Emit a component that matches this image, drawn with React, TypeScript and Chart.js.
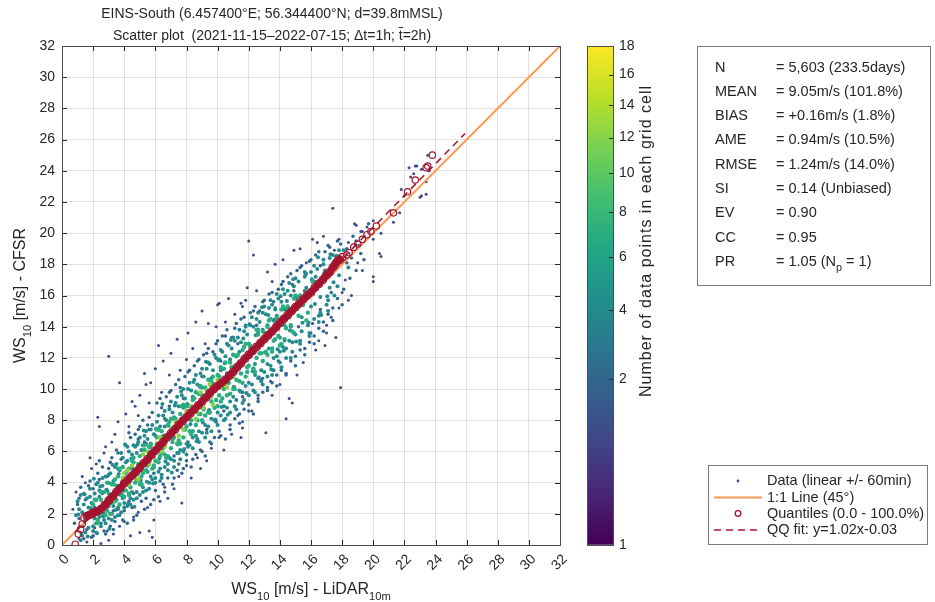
import React, { useEffect, useRef } from 'react';
import { Chart, registerables } from 'chart.js';

Chart.register(...registerables);

const FONT = '"Liberation Sans", Arial, Helvetica, sans-serif';
const INK = '#262626';

// ---------- texts ----------
const titleLine1 = 'EINS-South (6.457400°E; 56.344400°N; d=39.8mMSL)';
const titleLine2 = 'Scatter plot  (2021-11-15–2022-07-15; Δt=1h; t̄=2h)';
const xLabelParts: [string, boolean][] = [['WS', false], ['10', true], [' [m/s] - LiDAR', false], ['10m', true]];
const yLabelParts: [string, boolean][] = [['WS', false], ['10', true], [' [m/s] - CFSR', false]];

// ---------- axes ----------
const axisMin = 0;
const axisMax = 32;
const axisTicks = [0, 2, 4, 6, 8, 10, 12, 14, 16, 18, 20, 22, 24, 26, 28, 30, 32];

// ---------- colorbar ----------
const cbMax = 18;
const cbTickPositions = [0, 2, 4, 6, 8, 10, 12, 14, 16, 18];
const cbTickLabels = ['1', '2', '4', '6', '8', '10', '12', '14', '16', '18'];
const cbLabel = 'Number of data points in each grid cell';

// ---------- statistics ----------
const statLabels = ['N', 'MEAN', 'BIAS', 'AME', 'RMSE', 'SI', 'EV', 'CC', 'PR'];
const statValues = [
  '= 5,603 (233.5days)',
  '= 9.05m/s (101.8%)',
  '= +0.16m/s (1.8%)',
  '= 0.94m/s (10.5%)',
  '= 1.24m/s (14.0%)',
  '= 0.14 (Unbiased)',
  '= 0.90',
  '= 0.95',
  '= 1.05 (N_p = 1)',
];

// ---------- legend ----------
const legendLabels = ['Data (linear +/- 60min)', '1:1 Line (45°)', 'Quantiles (0.0 - 100.0%)', 'QQ fit: y=1.02x-0.03'];

// ---------- lines ----------
const fitSlope = 1.02;
const fitIntercept = -0.03;
const fitXRange = [0.85, 25.9];
const oneToOneRange = [0, 32];

// ---------- quantiles ----------
const quantDense: [number, number][] = [
  [1.45, 1.75], [1.6, 1.85], [1.8, 1.95], [2.0, 2.05], [2.25, 2.15], [2.5, 2.3], [2.75, 2.55], [3.0, 2.85],
  [3.25, 3.1], [3.5, 3.4], [3.75, 3.65], [4.0, 3.95], [4.25, 4.2], [4.5, 4.45], [4.75, 4.7], [5.0, 4.95],
  [5.25, 5.25], [5.5, 5.5], [5.75, 5.8], [6.0, 6.05], [6.25, 6.35], [6.5, 6.6], [6.75, 6.9], [7.0, 7.15],
  [7.25, 7.4], [7.5, 7.7], [7.75, 7.95], [8.0, 8.2], [8.25, 8.45], [8.5, 8.7], [8.75, 8.95], [9.0, 9.2],
  [9.25, 9.45], [9.5, 9.75], [9.75, 10.0], [10.0, 10.2], [10.25, 10.4], [10.5, 10.6], [10.75, 10.85], [11.0, 11.1],
  [11.25, 11.4], [11.5, 11.65], [11.75, 11.95], [12.0, 12.2], [12.25, 12.45], [12.5, 12.7], [12.75, 12.95], [13.0, 13.2],
  [13.25, 13.45], [13.5, 13.7], [13.75, 13.95], [14.0, 14.25], [14.25, 14.5], [14.5, 14.75], [14.75, 15.0], [15.0, 15.25],
  [15.25, 15.5], [15.5, 15.75], [15.75, 16.0], [16.0, 16.2], [16.25, 16.5], [16.5, 16.75], [16.75, 17.0], [17.0, 17.3],
  [17.2, 17.5], [17.4, 17.8], [17.55, 18.0], [17.7, 18.2], [17.85, 18.3], [18.0, 18.45],
];
const quantSparse: [number, number][] = [
  [0.85, 0.05], [1.05, 0.7], [1.2, 1.0], [1.3, 1.35], [18.3, 18.6], [18.45, 18.75], [18.75, 19.1], [19.0, 19.3],
  [19.3, 19.6], [19.6, 19.9], [19.85, 20.1], [20.2, 20.45], [21.3, 21.3], [22.2, 22.65], [22.7, 23.4], [23.4, 24.2],
  [23.5, 24.3], [23.8, 25.0],
];

// ---------- data points, grouped by count per grid cell ----------
const densityCounts = [1, 2, 4, 7, 12];

const pts1: [number, number][] = [
  [0.7, 2.3], [0.9, 3.4], [1.1, 0.4], [1.6, 0.2], [2.5, 0.1], [3.3, 0.7], [3.0, 0.3], [2.1, 1.1], [3.7, 1.2], [4.4, 0.6],
  [5.0, 0.8], [5.6, 0.9], [5.9, 1.6], [5.8, 0.5], [4.6, 1.8], [1.3, 4.4], [2.2, 5.2], [1.9, 4.9], [2.3, 8.2], [2.4, 7.6],
  [3.0, 12.1], [3.7, 10.4], [3.2, 6.6], [2.8, 6.3], [4.1, 8.4], [3.6, 7.9], [1.5, 4.0], [6.2, 12.8], [6.5, 11.8], [9.4, 14.2],
  [5.4, 10.3], [5.7, 10.4], [4.7, 8.9], [5.0, 9.6], [4.5, 9.2], [5.3, 11.0], [6.0, 11.3], [7.0, 12.3], [7.4, 13.2], [8.1, 13.6],
  [8.6, 14.3], [9.0, 15.0], [10.0, 15.4], [10.1, 15.5], [10.7, 15.8], [11.5, 15.5], [11.9, 16.5], [11.8, 15.7], [11.6, 15.3], [12.0, 19.5],
  [12.3, 18.6], [13.7, 18.0], [13.2, 17.5], [7.7, 2.7], [6.8, 3.0], [7.2, 3.6], [8.3, 4.3], [8.9, 4.9], [9.3, 5.4], [10.4, 6.1],
  [11.5, 6.9], [11.6, 7.5], [13.1, 7.2], [14.4, 8.1], [14.6, 9.4], [14.8, 9.1], [12.9, 10.7], [13.4, 10.5], [17.9, 10.1], [17.6, 13.3],
  [17.0, 13.6], [16.5, 13.1], [16.0, 13.6], [17.0, 14.1], [16.1, 14.2], [11.6, 7.9], [16.4, 19.4], [15.7, 18.1], [17.4, 21.6], [20.0, 17.2],
  [20.0, 16.9], [19.3, 17.6], [18.6, 16.0], [20.5, 18.5], [20.4, 18.7], [20.5, 20.0], [20.0, 20.8], [23.0, 22.3], [22.4, 23.6], [22.6, 23.8],
  [22.8, 24.3], [19.2, 20.1], [18.9, 20.5], [18.4, 19.4], [23.5, 25.0], [22.7, 24.3], [22.3, 24.2], [23.1, 24.1], [21.8, 22.8], [22.0, 22.4],
  [23.1, 22.4], [23.4, 22.5], [21.7, 21.3], [21.3, 20.7], [23.4, 23.3], [23.6, 24.0], [18.8, 20.6], [19.3, 20.1], [19.6, 20.4], [20.0, 19.6],
  [18.2, 17.0], [18.0, 16.2], [19.0, 18.1], [17.5, 18.9], [17.8, 19.6], [16.8, 19.8], [1.8, 5.6], [2.7, 5.9], [3.4, 7.1], [4.3, 7.6],
  [4.9, 8.3], [5.6, 9.1], [6.4, 9.8], [6.9, 10.9], [7.6, 11.2], [8.4, 12.6], [8.0, 11.9], [9.2, 12.9], [9.9, 14.0], [10.5, 14.3],
  [11.1, 14.8], [12.5, 16.3], [13.5, 16.9], [14.2, 18.3], [14.9, 18.9], [15.3, 19.0], [16.1, 19.6], [2.9, 0.9], [4.0, 1.5], [4.9, 2.1],
  [5.5, 2.4], [6.3, 2.8], [6.6, 3.7], [7.5, 4.4], [8.0, 5.1], [8.7, 5.6], [9.6, 6.2], [10.1, 6.9], [10.9, 7.1], [11.3, 8.3],
  [12.2, 8.6], [12.6, 9.4], [13.5, 9.6], [14.0, 10.3], [15.1, 10.9], [15.5, 11.7], [16.3, 12.5], [16.9, 12.8], [17.3, 14.6], [17.8, 15.2],
  [18.4, 15.7],
];

const pts2: [number, number][] = [
  [0.8, 1.4], [1.0, 2.6], [1.2, 3.7], [1.3, 0.6], [1.5, 2.9], [1.6, 1.0], [1.8, 4.1], [1.9, 0.5], [2.0, 3.6], [2.2, 0.8],
  [2.3, 4.6], [2.5, 1.4], [2.6, 5.0], [2.8, 0.7], [2.9, 4.4], [3.1, 1.2], [3.2, 5.6], [3.4, 1.5], [3.5, 6.1], [3.7, 1.9],
  [3.8, 5.5], [4.0, 2.2], [4.1, 6.4], [4.2, 1.4], [4.4, 6.9], [4.5, 2.4], [4.7, 7.1], [4.8, 1.9], [5.0, 7.6], [5.1, 2.8],
  [5.2, 8.0], [5.4, 3.0], [5.5, 7.7], [5.7, 2.6], [5.8, 8.5], [6.0, 3.5], [6.1, 9.1], [6.2, 3.1], [6.4, 8.8], [6.5, 3.9],
  [6.7, 9.5], [6.8, 4.3], [7.0, 9.9], [7.1, 3.9], [7.3, 10.3], [7.4, 4.8], [7.6, 10.1], [7.7, 4.6], [7.9, 10.8], [8.0, 5.4],
  [8.2, 11.2], [8.3, 5.0], [8.5, 11.5], [8.6, 5.8], [8.8, 11.9], [8.9, 6.1], [9.1, 12.2], [9.2, 5.7], [9.4, 12.6], [9.5, 6.6],
  [9.7, 12.4], [9.8, 6.9], [10.0, 13.1], [10.1, 7.3], [10.3, 13.4], [10.5, 6.8], [10.6, 13.8], [10.8, 7.7], [10.9, 13.3], [11.1, 8.1],
  [11.2, 14.2], [11.4, 7.8], [11.5, 14.5], [11.7, 8.7], [11.8, 14.1], [12.0, 9.0], [12.1, 14.9], [12.3, 8.4], [12.4, 15.3], [12.6, 9.2],
  [12.7, 15.0], [12.9, 9.8], [13.0, 15.7], [13.2, 10.1], [13.3, 16.1], [13.5, 10.4], [13.6, 15.6], [13.8, 10.9], [13.9, 16.4], [14.1, 11.2],
  [14.2, 16.9], [14.4, 11.0], [14.5, 17.2], [14.7, 11.8], [14.8, 16.7], [15.0, 12.1], [15.1, 17.6], [15.3, 12.5], [15.4, 17.9], [15.6, 12.2],
  [15.7, 17.4], [15.9, 13.0], [16.0, 18.3], [16.2, 13.4], [16.3, 18.6], [16.5, 13.9], [16.6, 17.9], [16.8, 14.3], [16.9, 18.8], [17.1, 14.8],
  [17.2, 19.1], [17.4, 15.2], [17.6, 18.5], [17.7, 15.8], [17.9, 19.3], [18.1, 16.4], [18.3, 19.0], [18.5, 17.1], [18.7, 19.8], [18.9, 17.6],
  [19.1, 19.2], [19.4, 18.3], [19.7, 20.6], [16.6, 15.1], [17.3, 16.2], [15.2, 14.0], [14.3, 13.1], [2.1, 2.4], [3.3, 2.2], [4.6, 3.3],
  [5.9, 4.6], [7.2, 5.7], [8.1, 6.6], [9.3, 7.4], [10.4, 8.6], [11.6, 9.5], [12.8, 10.6], [13.9, 11.8], [2.6, 3.3], [3.9, 5.0],
  [5.3, 6.6], [6.6, 8.1], [7.8, 9.4], [9.0, 10.8], [10.2, 11.8], [11.3, 12.9], [12.5, 14.1], [13.7, 15.2], [14.9, 16.3], [1.1, 1.7],
  [1.4, 3.3], [2.4, 4.2], [3.0, 4.9], [3.6, 2.3], [4.3, 2.8], [4.9, 6.8], [5.6, 7.4], [6.3, 4.1], [6.9, 8.9], [7.5, 5.2],
  [1.1, 3.0], [1.4, 0.4], [1.7, 3.8], [2.0, 0.6], [2.4, 5.4], [2.7, 0.9], [3.1, 5.3], [3.3, 1.0], [3.6, 5.9], [3.9, 1.6],
  [4.3, 7.2], [4.6, 1.6], [4.9, 7.4], [5.3, 2.3], [5.6, 8.2], [5.9, 2.9], [6.3, 9.4], [6.6, 3.4], [6.9, 9.8], [7.2, 4.3],
  [7.5, 10.6], [7.8, 4.9], [8.1, 11.1], [8.4, 5.5], [8.7, 11.8], [9.0, 6.0], [9.3, 12.3], [9.6, 6.5], [9.9, 12.9], [10.2, 7.0],
  [10.5, 13.4], [10.8, 7.4], [11.1, 13.9], [11.4, 8.4], [11.7, 14.6], [12.0, 8.6], [12.3, 15.0], [12.6, 9.6], [12.9, 15.6], [13.2, 9.9],
  [13.5, 16.2], [13.8, 10.2], [14.1, 16.7], [14.4, 10.9], [14.7, 17.4], [15.0, 11.5], [15.3, 17.8], [15.6, 12.6], [15.9, 18.2], [16.2, 12.9],
  [16.5, 18.8], [16.8, 13.7], [17.1, 19.2], [17.4, 14.4], [17.7, 19.5], [18.0, 15.4], [18.3, 18.1], [18.6, 18.4], [18.9, 19.5], [19.2, 18.7],
];

const pts4: [number, number][] = [
  [0.9, 1.9], [1.0, 2.8], [1.1, 2.3], [1.2, 3.2], [1.3, 1.2], [1.4, 2.6], [1.5, 0.8], [1.6, 3.0], [1.7, 1.1], [1.8, 3.6],
  [1.9, 2.7], [2.0, 0.9], [2.1, 3.3], [2.2, 1.4], [2.3, 4.0], [2.4, 3.1], [2.5, 1.2], [2.6, 3.8], [2.7, 1.6], [2.8, 4.4],
  [2.9, 3.5], [3.0, 1.7], [3.1, 4.6], [3.2, 2.0], [3.3, 4.1], [3.4, 1.8], [3.5, 5.2], [3.6, 2.4], [3.7, 4.8], [3.8, 2.1],
  [3.9, 5.6], [4.0, 2.7], [4.1, 5.3], [4.2, 2.5], [4.3, 6.0], [4.4, 3.0], [4.5, 5.8], [4.6, 2.9], [4.7, 6.3], [4.8, 3.4],
  [4.9, 6.6], [5.0, 3.2], [5.1, 6.1], [5.2, 3.7], [5.3, 7.0], [5.4, 3.5], [5.5, 6.8], [5.6, 4.0], [5.7, 7.4], [5.8, 4.2],
  [5.9, 7.1], [6.0, 4.3], [6.1, 7.9], [6.2, 4.7], [6.3, 7.6], [6.4, 4.5], [6.5, 8.3], [6.6, 5.0], [6.7, 8.0], [6.8, 5.2],
  [6.9, 8.7], [7.0, 5.5], [7.1, 8.5], [7.2, 5.4], [7.3, 9.1], [7.4, 5.9], [7.5, 8.9], [7.6, 6.1], [7.7, 9.6], [7.8, 6.0],
  [7.9, 9.4], [8.0, 6.5], [8.1, 10.0], [8.2, 6.4], [8.3, 9.9], [8.4, 6.9], [8.5, 10.6], [8.6, 7.0], [8.7, 10.3], [8.8, 7.3],
  [8.9, 11.0], [9.0, 7.2], [9.1, 10.8], [9.2, 7.7], [9.3, 11.3], [9.4, 7.6], [9.5, 11.6], [9.6, 8.1], [9.7, 11.2], [9.8, 8.0],
  [9.9, 12.0], [10.0, 8.5], [10.1, 11.9], [10.2, 8.3], [10.3, 12.4], [10.4, 8.9], [10.5, 12.1], [10.6, 8.8], [10.7, 12.8], [10.8, 9.2],
  [10.9, 12.6], [11.0, 9.5], [11.1, 13.1], [11.2, 9.3], [11.3, 13.3], [11.4, 9.9], [11.5, 13.0], [11.6, 9.8], [11.7, 13.7], [11.8, 10.2],
  [11.9, 13.5], [12.0, 10.4], [12.1, 14.1], [12.2, 10.3], [12.3, 14.0], [12.4, 10.9], [12.5, 14.5], [12.6, 10.7], [12.7, 14.3], [12.8, 11.2],
  [12.9, 14.9], [13.0, 11.1], [13.1, 14.8], [13.2, 11.6], [13.3, 15.2], [13.4, 11.5], [13.5, 15.4], [13.6, 12.0], [13.7, 15.1], [13.8, 12.1],
  [13.9, 15.8], [14.0, 12.4], [14.1, 15.6], [14.2, 12.7], [14.3, 16.1], [14.4, 12.6], [14.5, 16.3], [14.6, 13.1], [14.7, 16.0], [14.8, 13.0],
  [14.9, 16.6], [15.0, 13.5], [15.2, 16.9], [15.4, 13.7], [15.6, 17.2], [15.8, 14.1], [16.0, 17.5], [16.2, 14.5], [16.4, 17.7], [16.6, 14.9],
  [16.8, 18.0], [17.0, 15.4], [17.2, 18.4], [17.5, 16.0], [17.8, 18.9], [1.3, 2.1], [1.7, 2.4], [2.1, 1.7], [2.4, 3.5], [2.7, 2.0],
  [3.0, 4.0], [3.3, 2.5], [3.6, 4.9], [3.9, 3.0], [4.2, 5.4], [4.5, 3.4], [4.8, 5.9], [5.1, 3.9], [5.4, 6.5], [5.7, 4.4],
  [6.0, 7.0], [6.3, 4.9], [6.6, 7.6], [6.9, 5.6], [7.2, 8.2], [7.5, 5.9], [7.8, 8.8], [8.1, 6.3], [8.4, 9.5], [8.7, 6.8],
  [9.0, 10.1], [9.3, 7.2], [9.6, 10.7], [9.9, 7.9], [10.2, 11.2], [10.5, 8.1], [10.8, 11.9], [11.1, 8.9], [11.4, 12.4], [11.7, 9.3],
  [12.0, 12.9], [12.3, 9.9], [12.6, 13.6], [12.9, 10.3], [13.2, 14.1], [13.5, 10.9], [13.8, 14.7], [14.1, 11.4], [14.4, 15.1], [14.7, 12.0],
  [15.0, 15.8], [15.3, 12.9], [15.6, 16.3], [15.9, 13.6], [16.2, 16.9], [16.5, 14.3], [16.8, 17.3], [17.1, 15.0], [17.4, 17.9],
  [1.2, 0.3], [1.5, 1.6], [1.8, 3.1], [2.0, 1.2], [2.2, 3.9], [2.4, 1.8], [2.6, 4.3], [2.8, 1.4], [3.0, 4.5], [3.2, 1.6],
  [3.4, 5.0], [3.6, 1.9], [3.8, 5.9], [4.0, 2.4], [4.2, 6.3], [4.4, 2.6], [4.6, 6.4], [4.8, 3.0], [5.0, 6.9], [5.2, 3.4],
  [5.4, 7.3], [5.6, 3.6], [5.8, 7.7], [6.0, 4.0], [6.2, 8.3], [6.4, 4.3], [6.6, 8.6], [6.8, 4.8], [7.0, 9.2], [7.2, 5.0],
  [7.4, 9.5], [7.6, 5.5], [7.8, 10.0], [8.0, 5.8], [8.2, 10.4], [8.4, 6.2], [8.6, 10.9], [8.8, 6.6], [9.0, 11.3], [9.2, 6.9],
  [9.4, 11.7], [9.6, 7.3], [9.8, 12.2], [10.0, 7.7], [10.2, 12.5], [10.4, 8.0], [10.6, 12.9], [10.8, 8.5], [11.0, 13.3], [11.2, 8.7],
  [11.4, 13.8], [11.6, 9.1], [11.8, 14.0], [12.0, 9.6], [12.2, 14.6], [12.4, 9.8], [12.6, 14.9], [12.8, 10.5], [13.0, 15.3], [13.2, 10.8],
  [13.4, 15.7], [13.6, 11.2], [13.8, 16.1], [14.0, 11.7], [14.2, 16.4], [14.4, 12.0], [14.6, 16.8], [14.8, 12.4], [15.0, 17.1], [15.3, 13.1],
  [15.6, 17.5], [15.9, 13.4], [16.2, 17.9], [16.5, 14.7], [16.8, 18.3], [17.1, 15.7], [17.4, 18.6], [17.7, 16.6], [12.1, 12.8], [12.4, 11.6],
  [12.9, 13.8], [13.3, 12.6], [13.6, 14.4], [14.0, 13.3], [14.3, 15.1], [14.7, 14.0], [15.1, 15.9], [15.4, 14.6], [15.7, 16.5], [16.0, 15.3],
  [16.3, 17.2], [16.6, 15.9], [16.9, 17.6], [17.2, 16.5], [17.5, 18.2], [17.8, 17.3], [18.1, 18.9], [18.4, 17.8],
  [1.05, 1.95], [1.25, 0.65], [1.45, 3.25], [1.65, 0.55], [1.85, 2.35], [2.05, 4.25], [2.25, 0.75], [2.45, 3.75], [2.65, 1.85], [2.85, 3.55],
  [3.05, 1.05], [3.25, 5.15], [3.45, 2.25], [3.65, 4.55], [3.85, 3.25], [4.05, 6.45], [4.25, 2.65], [4.45, 5.55], [4.65, 2.45], [4.85, 6.45],
  [5.05, 4.15], [5.25, 7.35], [5.45, 4.05], [5.65, 6.25], [5.85, 3.95], [6.05, 7.45], [6.25, 5.55], [6.45, 9.05], [6.65, 5.35], [6.85, 7.65],
  [7.05, 4.65], [7.25, 8.95], [7.45, 6.45], [7.65, 9.85], [7.85, 6.15], [8.05, 9.05], [8.25, 7.75], [8.45, 10.45], [8.65, 6.65], [8.85, 10.15],
  [9.05, 7.85], [9.25, 11.75], [9.45, 8.65], [9.65, 10.35], [9.85, 8.05], [10.05, 11.85], [10.25, 8.85], [10.45, 11.65], [10.65, 8.35], [10.85, 13.15],
  [11.05, 10.15], [11.25, 12.15], [11.45, 9.85], [11.65, 13.25], [11.85, 9.75], [12.05, 14.15], [12.25, 11.15], [12.45, 13.45], [12.65, 10.75], [12.85, 15.25],
  [13.05, 12.35], [13.25, 14.75], [13.45, 11.25], [13.65, 14.45], [13.85, 12.55], [14.05, 15.95], [14.25, 12.45], [14.45, 15.65], [14.65, 13.75], [14.85, 17.05],
  [15.05, 13.05], [15.25, 15.95], [15.45, 14.25], [15.65, 17.35], [15.85, 14.25], [16.05, 17.05], [16.25, 15.45], [16.45, 18.45], [16.65, 14.75], [16.85, 17.45],
  [17.05, 15.95], [17.25, 18.65], [17.45, 16.85], [17.65, 18.55],
];

const pts7: [number, number][] = [
  [2.2, 2.9], [2.5, 2.0], [2.7, 3.4], [3.0, 2.5], [3.2, 3.9], [3.4, 2.8], [3.6, 4.4], [3.8, 3.2], [3.9, 4.1], [4.1, 3.5],
  [4.3, 4.9], [4.4, 3.7], [4.6, 5.3], [4.8, 4.1], [5.0, 5.7], [5.1, 4.4], [5.3, 6.1], [5.5, 4.7], [5.7, 6.5], [5.9, 5.1],
  [6.1, 6.9], [6.2, 5.3], [6.4, 7.3], [6.6, 5.8], [6.8, 7.7], [7.0, 6.2], [7.2, 8.1], [7.4, 6.5], [7.6, 8.4], [7.8, 6.9],
  [8.0, 8.9], [8.2, 7.3], [8.4, 9.3], [8.6, 7.7], [8.8, 9.7], [9.0, 8.0], [9.2, 10.1], [9.4, 8.5], [9.6, 10.5], [9.8, 8.8],
  [10.0, 10.9], [10.2, 9.2], [10.4, 11.3], [10.6, 9.6], [10.8, 11.7], [11.0, 10.0], [11.2, 12.1], [11.4, 10.5], [11.6, 12.5], [11.8, 10.8],
  [12.0, 12.9], [12.3, 11.3], [12.6, 13.5], [12.9, 11.8], [13.2, 14.0], [13.5, 12.4], [13.8, 14.6], [14.1, 12.9], [14.5, 15.3], [14.9, 13.6],
  [15.3, 16.0], [15.7, 14.4], [2.9, 2.2], [3.5, 3.8], [4.0, 3.1], [4.5, 4.9], [5.2, 4.6], [5.8, 6.0], [6.5, 6.2], [7.1, 6.6],
  [7.7, 8.1], [8.3, 8.0], [8.9, 8.4], [9.5, 9.8], [10.1, 9.6], [10.7, 10.4], [11.3, 11.6], [11.9, 11.4], [12.5, 12.0], [13.1, 13.4],
  [13.7, 13.2], [14.3, 14.1], [2.0, 2.6], [2.3, 1.6], [2.5, 3.4], [2.8, 1.9], [3.0, 3.3], [3.2, 2.7], [3.4, 4.2], [3.7, 2.6],
  [3.9, 5.0], [4.1, 4.0], [4.3, 3.2], [4.6, 5.6], [4.8, 4.5], [5.0, 3.9], [5.2, 6.4], [5.4, 4.8], [5.6, 6.3], [5.8, 4.9],
  [6.0, 5.4], [6.2, 7.4], [6.4, 5.9], [6.6, 6.8], [6.8, 5.7], [7.0, 8.1], [7.2, 6.9], [7.4, 7.8], [7.6, 6.5], [7.8, 9.0],
  [8.0, 7.6], [8.2, 8.9], [8.4, 7.3], [8.6, 9.8], [8.8, 8.4], [9.0, 9.6], [9.2, 8.3], [9.4, 10.6], [9.6, 9.2], [9.8, 10.1],
  [10.0, 8.9], [10.2, 11.4], [10.4, 10.0], [10.6, 11.0], [10.8, 9.7], [11.0, 12.2], [11.2, 10.6], [11.4, 11.7], [11.6, 10.4], [11.8, 12.9],
  [12.0, 11.5], [12.2, 12.4], [12.4, 11.1], [12.6, 13.8], [12.8, 12.3], [13.0, 13.6], [13.2, 12.2], [13.4, 14.5], [13.6, 13.1], [13.8, 14.0],
  [14.0, 12.8], [14.2, 15.3], [14.4, 13.9], [14.6, 14.6], [14.8, 13.7], [15.0, 16.0], [15.2, 14.7], [15.5, 15.4], [15.8, 14.9], [16.1, 16.9],
  [2.1, 2.9], [2.3, 1.4], [2.5, 2.9], [2.7, 2.4], [2.9, 4.0], [3.1, 2.0], [3.3, 3.9], [3.5, 2.9], [3.7, 4.9], [3.9, 3.5],
  [4.1, 4.6], [4.3, 3.3], [4.5, 5.4], [4.7, 4.0], [4.9, 5.2], [5.1, 3.9], [5.3, 6.4], [5.5, 5.1], [5.7, 6.4], [5.9, 5.0],
  [6.1, 7.4], [6.3, 5.7], [6.5, 7.0], [6.7, 5.6], [6.9, 7.9], [7.1, 6.8], [7.3, 8.1], [7.5, 6.7], [7.7, 8.9], [7.9, 7.4],
  [8.1, 8.5], [8.3, 7.1], [8.5, 9.4], [8.7, 8.0], [8.9, 10.2], [9.1, 8.7], [9.3, 9.9], [9.5, 8.5], [9.7, 10.8], [9.9, 9.3],
  [10.1, 10.8], [10.3, 9.4], [10.5, 11.7], [10.7, 10.4], [10.9, 11.4], [11.1, 10.0], [11.3, 12.2], [11.5, 11.0], [11.7, 12.7], [11.9, 11.1],
  [12.1, 12.7], [12.3, 11.3], [12.5, 13.8], [12.7, 12.3], [12.9, 13.7], [13.1, 12.4], [13.3, 14.4], [13.5, 12.6], [13.7, 14.2], [13.9, 13.4],
  [14.1, 15.1], [14.3, 13.2], [14.5, 15.2], [14.7, 14.1], [14.9, 15.8],
];

const pts12: [number, number][] = [
  [3.6, 3.4], [4.0, 4.6], [4.3, 3.9], [4.7, 4.4], [5.2, 5.8], [5.6, 5.2], [6.4, 6.0], [7.0, 7.4], [7.5, 7.0], [8.2, 8.4],
  [8.6, 8.1], [8.9, 9.8], [9.3, 9.9], [9.7, 9.0], [10.2, 10.2], [10.3, 10.5], [6.8, 6.9], [5.0, 4.8], [11.0, 10.8], [3.3, 2.9],
  [9.9, 10.3], [8.0, 8.6], [5.4, 5.2], [4.5, 5.1], [6.1, 6.5], [7.3, 7.9], [9.1, 8.8], [10.6, 10.1], [3.9, 4.3], [4.2, 4.8],
  [4.9, 4.2], [5.5, 6.0], [5.9, 5.6], [6.3, 6.9], [6.6, 6.3], [7.2, 7.6], [7.8, 7.4], [8.3, 8.9], [8.7, 8.5], [9.5, 10.3],
  [9.6, 9.5], [10.0, 10.6], [10.5, 10.3],
];

// ---------- helpers ----------
const VIRIDIS = ['#440154', '#482475', '#414487', '#355f8d', '#2a788e', '#21918c', '#22a884', '#44bf70', '#7ad151', '#bddf26', '#fde725'];
function hexToRgb(h: string) {
  return [parseInt(h.slice(1, 3), 16), parseInt(h.slice(3, 5), 16), parseInt(h.slice(5, 7), 16)];
}
function viridisAt(t: number) {
  const c = Math.max(0, Math.min(1, t)) * (VIRIDIS.length - 1);
  const i = Math.min(VIRIDIS.length - 2, Math.floor(c));
  const f = c - i;
  const a = hexToRgb(VIRIDIS[i]);
  const b = hexToRgb(VIRIDIS[i + 1]);
  const m = a.map((v, k) => Math.round(v + (b[k] - v) * f));
  return `rgb(${m[0]},${m[1]},${m[2]})`;
}
const countColor = (n: number) => viridisAt(Math.sqrt(n) / Math.sqrt(cbMax));
const toPts = (arr: [number, number][]) => arr.map(([x, y]) => ({ x, y }));

function drawRich(ctx: CanvasRenderingContext2D, parts: [string, boolean][], cx: number, baseY: number, size: number) {
  const sub = size * 0.7;
  const widths = parts.map(([t, s]) => {
    ctx.font = `${s ? sub : size}px ${FONT}`;
    return ctx.measureText(t).width;
  });
  const total = widths.reduce((a, b) => a + b, 0);
  let x = cx - total / 2;
  ctx.textAlign = 'left';
  ctx.textBaseline = 'alphabetic';
  parts.forEach(([t, s], i) => {
    ctx.font = `${s ? sub : size}px ${FONT}`;
    ctx.fillText(t, x, baseY + (s ? size * 0.4 : 0));
    x += widths[i];
  });
}

function drawRichLeft(ctx: CanvasRenderingContext2D, text: string, x: number, baseY: number, size: number) {
  // "_p" marks a subscript character
  const segs = text.split(/(_\w)/);
  let cx = x;
  segs.forEach((seg) => {
    if (!seg) return;
    const isSub = seg.startsWith('_');
    const t = isSub ? seg.slice(1) : seg;
    ctx.font = `${isSub ? size * 0.75 : size}px ${FONT}`;
    ctx.fillText(t, cx, baseY + (isSub ? size * 0.4 : 0));
    cx += ctx.measureText(t).width;
  });
}

const TITLE_CX = 272;

const mainDecor = {
  id: 'mainDecor',
  afterDatasetsDraw(chart: any) {
    const { ctx, chartArea: a, scales } = chart;
    ctx.save();
    ctx.strokeStyle = INK;
    ctx.lineWidth = 1;
    ctx.beginPath();
    axisTicks.forEach((v) => {
      const x = Math.round(scales.x.getPixelForValue(v)) + 0.5;
      ctx.moveTo(x, a.bottom);
      ctx.lineTo(x, a.bottom - 5);
      ctx.moveTo(x, a.top);
      ctx.lineTo(x, a.top + 5);
      const y = Math.round(scales.y.getPixelForValue(v)) + 0.5;
      ctx.moveTo(a.left, y);
      ctx.lineTo(a.left + 5, y);
      ctx.moveTo(a.right, y);
      ctx.lineTo(a.right - 5, y);
    });
    ctx.stroke();
    ctx.strokeStyle = '#4d4d4d';
    ctx.strokeRect(Math.round(a.left) + 0.5, Math.round(a.top) + 0.5, Math.round(a.right - a.left), Math.round(a.bottom - a.top));
    ctx.restore();
  },
  afterDraw(chart: any) {
    const { ctx, chartArea: a } = chart;
    const cx = (a.left + a.right) / 2;
    ctx.save();
    ctx.fillStyle = INK;
    // title
    ctx.font = `14px ${FONT}`;
    ctx.textBaseline = 'middle';
    ctx.textAlign = 'center';
    ctx.fillText(titleLine1, TITLE_CX, 14);
    const [pre, post] = titleLine2.split('t̄');
    const plain = pre + 't' + post;
    const w = ctx.measureText(plain).width;
    ctx.textAlign = 'left';
    const x0 = TITLE_CX - w / 2;
    ctx.fillText(plain, x0, 36);
    const ox = x0 + ctx.measureText(pre).width;
    const tw = ctx.measureText('t').width;
    ctx.strokeStyle = INK;
    ctx.lineWidth = 1;
    ctx.beginPath();
    ctx.moveTo(ox, 27.5);
    ctx.lineTo(ox + tw + 0.5, 27.5);
    ctx.stroke();

    // axis titles
    drawRich(ctx, xLabelParts, cx, 594, 16);
    ctx.save();
    ctx.translate(25, (a.top + a.bottom) / 2);
    ctx.rotate(-Math.PI / 2);
    drawRich(ctx, yLabelParts, 0, 0, 16);
    ctx.restore();

    // statistics box
    ctx.strokeStyle = '#7a7a7a';
    ctx.lineWidth = 1;
    ctx.strokeRect(697.5, 46.5, 233, 239);
    ctx.fillStyle = INK;
    ctx.textAlign = 'left';
    ctx.textBaseline = 'middle';
    statLabels.forEach((lab, i) => {
      const y = 67.5 + i * 24.3;
      ctx.font = `14.5px ${FONT}`;
      ctx.fillText(lab, 715, y);
      drawRichLeft(ctx, statValues[i], 776, y, 14.5);
    });

    // legend box
    ctx.strokeStyle = '#7a7a7a';
    ctx.strokeRect(708.5, 465.5, 219, 79);
    const rows = [481, 497.5, 513.5, 530];
    ctx.font = `14.5px ${FONT}`;
    ctx.fillStyle = INK;
    legendLabels.forEach((lab, i) => ctx.fillText(lab, 767, rows[i]));
    // symbols
    ctx.fillStyle = countColor(densityCounts[0]);
    ctx.beginPath();
    ctx.arc(738, rows[0], 1.4, 0, Math.PI * 2);
    ctx.fill();
    ctx.strokeStyle = '#ff9a57';
    ctx.lineWidth = 2;
    ctx.beginPath();
    ctx.moveTo(714, rows[1]);
    ctx.lineTo(762, rows[1]);
    ctx.stroke();
    ctx.strokeStyle = '#a2142f';
    ctx.lineWidth = 1.3;
    ctx.beginPath();
    ctx.arc(738, rows[2], 2.8, 0, Math.PI * 2);
    ctx.stroke();
    ctx.lineWidth = 1.5;
    ctx.setLineDash([7, 5]);
    ctx.beginPath();
    ctx.moveTo(714, rows[3]);
    ctx.lineTo(760, rows[3]);
    ctx.stroke();
    ctx.setLineDash([]);
    ctx.restore();
  },
};

const cbDecor = {
  id: 'cbDecor',
  afterDatasetsDraw(chart: any) {
    const { ctx, chartArea: a, scales } = chart;
    ctx.save();
    ctx.strokeStyle = INK;
    ctx.lineWidth = 1;
    ctx.beginPath();
    cbTickPositions.forEach((v) => {
      const y = Math.round(scales.y.getPixelForValue(Math.sqrt(v))) + 0.5;
      ctx.moveTo(a.right, y);
      ctx.lineTo(a.right - 4, y);
    });
    ctx.stroke();
    ctx.strokeStyle = '#4d4d4d';
    ctx.strokeRect(Math.round(a.left) + 0.5, Math.round(a.top) + 0.5, Math.round(a.right - a.left), Math.round(a.bottom - a.top));
    ctx.restore();
  },
  afterDraw(chart: any) {
    const { ctx } = chart;
    ctx.save();
    ctx.fillStyle = INK;
    ctx.font = `16px ${FONT}`;
    try {
      (ctx as any).letterSpacing = '1px';
    } catch (e) {
      /* ignore */
    }
    ctx.textAlign = 'center';
    ctx.textBaseline = 'middle';
    ctx.translate(87, 241);
    ctx.rotate(-Math.PI / 2);
    ctx.fillText(cbLabel, 0, 0);
    ctx.restore();
  },
};

export default function App() {
  const mainRef = useRef<HTMLCanvasElement>(null);
  const cbRef = useRef<HTMLCanvasElement>(null);

  useEffect(() => {
    const groups = [pts1, pts2, pts4, pts7, pts12];
    const radii = [1.5, 1.75, 2.0, 2.2, 2.3];
    const scatterSets = groups.map((g, i) => ({
      label: `count ${densityCounts[i]}`,
      data: toPts(g),
      showLine: false,
      pointRadius: radii[i],
      pointBorderWidth: 0,
      pointBackgroundColor: countColor(densityCounts[i]),
      order: 20 - i,
    }));
    const main = new Chart(mainRef.current as HTMLCanvasElement, {
      type: 'scatter',
      data: {
        datasets: [
          {
            label: 'Quantiles',
            data: toPts(quantDense),
            showLine: true,
            borderColor: '#a2142f',
            borderWidth: 6.5,
            pointRadius: 3.8,
            pointBorderWidth: 1.3,
            pointBorderColor: '#a2142f',
            pointBackgroundColor: 'rgba(0,0,0,0)',
            order: 1,
          },
          {
            label: 'Quantiles tail',
            data: toPts(quantSparse),
            showLine: false,
            pointRadius: 3.2,
            pointBorderWidth: 1.2,
            pointBorderColor: '#a2142f',
            pointBackgroundColor: 'rgba(0,0,0,0)',
            order: 1,
          },
          {
            label: 'QQ fit',
            data: fitXRange.map((x) => ({ x, y: fitSlope * x + fitIntercept })),
            showLine: true,
            borderColor: '#a2142f',
            borderWidth: 1.5,
            borderDash: [7, 5],
            pointRadius: 0,
            order: 2,
          },
          {
            label: '1:1 Line',
            data: oneToOneRange.map((v) => ({ x: v, y: v })),
            showLine: true,
            borderColor: '#ff9a57',
            borderWidth: 2,
            pointRadius: 0,
            order: 3,
          },
          ...scatterSets,
        ] as any,
      },
      options: {
        responsive: false,
        animation: false,
        events: [],
        layout: { padding: { left: 0, top: 46, right: 375, bottom: 0 } },
        elements: { line: { tension: 0 } },
        scales: {
          x: {
            type: 'linear',
            min: axisMin,
            max: axisMax,
            afterBuildTicks: (s: any) => {
              s.ticks = axisTicks.map((value) => ({ value }));
            },
            afterFit: (s: any) => {
              s.height = 57;
            },
            ticks: {
              autoSkip: false,
              minRotation: 45,
              maxRotation: 45,
              padding: 6,
              labelOffset: 5,
              color: INK,
              font: { family: FONT, size: 14 },
            },
            grid: { color: '#e1e1e1', drawTicks: false },
            border: { display: false },
          },
          y: {
            type: 'linear',
            min: axisMin,
            max: axisMax,
            afterBuildTicks: (s: any) => {
              s.ticks = axisTicks.map((value) => ({ value }));
            },
            afterFit: (s: any) => {
              s.width = 62;
            },
            ticks: {
              autoSkip: false,
              padding: 7,
              color: INK,
              font: { family: FONT, size: 14 },
            },
            grid: { color: '#e1e1e1', drawTicks: false },
            border: { display: false },
          },
        },
        plugins: {
          legend: { display: false },
          tooltip: { enabled: false },
          title: { display: false },
        },
      },
      plugins: [mainDecor],
    });

    const cb = new Chart(cbRef.current as HTMLCanvasElement, {
      type: 'bar',
      data: {
        labels: [''],
        datasets: [
          {
            data: [[0, Math.sqrt(cbMax)]] as any,
            borderWidth: 0,
            barPercentage: 1,
            categoryPercentage: 1,
            backgroundColor: (c: any) => {
              const area = c.chart.chartArea;
              if (!area) return VIRIDIS[5];
              const g = c.chart.ctx.createLinearGradient(0, area.bottom, 0, area.top);
              VIRIDIS.forEach((col, i) => g.addColorStop(i / (VIRIDIS.length - 1), col));
              return g;
            },
          },
        ],
      },
      options: {
        responsive: false,
        animation: false,
        events: [],
        layout: { padding: { left: 27, right: 37, top: 46, bottom: 57 } },
        scales: {
          x: { display: false },
          y: {
            position: 'right',
            min: 0,
            max: Math.sqrt(cbMax),
            afterBuildTicks: (s: any) => {
              s.ticks = cbTickPositions.map((v) => ({ value: Math.sqrt(v) }));
            },
            afterFit: (s: any) => {
              s.width = 30;
            },
            ticks: {
              padding: 6,
              color: INK,
              font: { family: FONT, size: 14 },
              callback: (_v: any, i: number) => cbTickLabels[i],
            },
            grid: { drawOnChartArea: false, drawTicks: false, color: 'rgba(0,0,0,0)' },
            border: { display: false },
          },
        },
        plugins: { legend: { display: false }, tooltip: { enabled: false } },
      },
      plugins: [cbDecor],
    });

    return () => {
      main.destroy();
      cb.destroy();
    };
  }, []);

  return (
    <div style={{ position: 'fixed', left: 0, top: 0, width: 935, height: 602, background: '#ffffff' }}>
      <canvas ref={mainRef} width={935} height={602} style={{ position: 'absolute', left: 0, top: 0 }} />
      <canvas ref={cbRef} width={120} height={602} style={{ position: 'absolute', left: 560, top: 0 }} />
    </div>
  );
}
